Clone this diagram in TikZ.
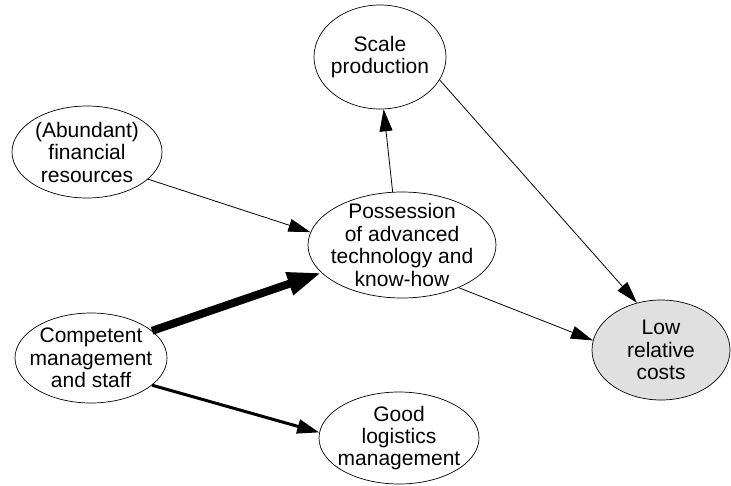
\documentclass[tikz,border=0pt]{standalone}
\usepackage{fontspec}
\setmainfont{Liberation Sans}
\usetikzlibrary{shapes.geometric,arrows.meta}
\begin{document}
\begin{tikzpicture}[x=1pt,y=-1pt,
  bub/.style={ellipse,draw,line width=0.7pt,inner sep=-20pt,align=center,font=\fontsize{21}{22.5}\selectfont},
  con/.style={line width=0.8pt,-{Triangle[length=22pt,width=13pt]}},
  medcon/.style={line width=3pt,-{Triangle[length=22pt,width=14pt]}},
  thickcon/.style={line width=8pt,-{Triangle[length=34pt,width=22pt]}}]
\useasboundingbox (0,0) rectangle (731,485);
\node[bub,minimum width=132pt,minimum height=104pt] (scale) at (380,57) {Scale\\production};
\node[bub,minimum width=150pt,minimum height=92pt] (fin) at (87,152) {(Abundant)\\financial\\resources};
\node[bub,minimum width=188pt,minimum height=106pt] (tech) at (402,245) {Possession\\of advanced\\technology and\\know-how};
\node[bub,minimum width=152pt,minimum height=90pt] (mgmt) at (91,358) {Competent\\management\\and staff};
\node[bub,fill=black!12,minimum width=138pt,minimum height=100pt] (low) at (661,350) {Low\\relative\\costs};
\node[bub,minimum width=160pt,minimum height=92pt,font=\fontsize{21}{22}\selectfont] (log) at (399,438) {Good\\logistics\\management};
\draw[con] (tech.100) -- (scale.-86);
\draw[con] (fin.336) -- (tech.172);
\draw[con] (scale.-21) -- (low.117);
\draw[con] (tech.-37) -- (low.172);
\draw[thickcon] (mgmt.24) -- (tech.199);
\draw[medcon] (mgmt.-24) -- (log.176);
\end{tikzpicture}
\end{document}
